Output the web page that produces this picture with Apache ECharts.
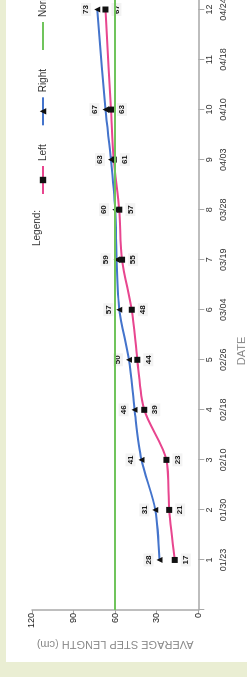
<!DOCTYPE html>
<html>
<head>
<meta charset="utf-8">
<script src="https://cdn.jsdelivr.net/npm/echarts@6/dist/echarts.min.js"></script>
<style>
  html, body { margin: 0; padding: 0; }
  body { width: 247px; height: 677px; overflow: hidden; background: #eaeed3; position: relative; }
  /* chart is drawn landscape, then turned a quarter turn counter-clockwise */
  #wrap {
    position: absolute; left: 0; top: 0; width: 677px; height: 247px;
    transform-origin: 0 0; transform: translateY(677px) rotate(-90deg);
  }
  #panel { position: absolute; left: 15px; top: 6px; right: 0; bottom: 0; background: #fff; }
  #container { position: absolute; left: 0; top: 0; width: 677px; height: 247px; }
</style>
</head>
<body>
<div id="wrap">
  <div id="panel"></div>
  <div id="container"></div>
</div>
<script>
  const sessions = [1, 2, 3, 4, 5, 6, 7, 8, 9, 10, 11, 12];
  const dates = ["01/23", "01/30", "02/10", "02/18", "02/26", "03/04", "03/19", "03/28", "04/03", "04/10", "04/18", "04/24"];
  const leftStep = [17, 21, 23, 39, 44, 48, 55, 57, 61, 63, null, 67];
  const rightStep = [28, 31, 41, 46, 50, 57, 59, 60, 63, 67, null, 73];
  const normValue = 60;
  const valueTicks = [0, 30, 60, 90, 120];

  const toPoints = (vals) => sessions.map((s, i) => [s, vals[i]]);

  const dom = document.getElementById("container");
  const myChart = echarts.init(dom, null, { renderer: "canvas" });

  const font = "Liberation Sans, Arial, sans-serif";

  const pointLabel = (pos) => ({
    show: true,
    position: pos,
    distance: 3,
    fontSize: 8,
    fontWeight: "bold",
    color: "#111",
    fontFamily: font,
    backgroundColor: "#f3f3f3",
    padding: [1, 2],
  });

  const option = {
    animation: false,
    textStyle: { fontFamily: font },
    legend: {
      left: 477,
      top: 33,
      width: 400,
      itemWidth: 28,
      itemHeight: 8,
      itemGap: 18,
      textStyle: { fontSize: 10, color: "#333" },
      data: [
        "Left",
        "Right",
        { name: "Norm", itemStyle: { opacity: 0 } },
      ],
    },
    graphic: [
      {
        type: "text",
        left: 431,
        top: 32,
        style: { text: "Legend:", fill: "#333", font: "10px " + font },
      },
    ],
    grid: { left: 67, top: 32, bottom: 48.7, right: 0, outerBoundsMode: "none" },
    xAxis: {
      type: "value",
      min: 0,
      max: 12.19,
      interval: 1,
      name: "DATE",
      nameLocation: "middle",
      nameGap: 38,
      nameTextStyle: { fontSize: 11, color: "#8a8a8a", padding: [0, 92, 0, 0] },
      axisLine: { lineStyle: { color: "#a8a8a8", width: 1.5 } },
      axisTick: { length: 6, lineStyle: { color: "#a8a8a8" } },
      splitLine: { show: false },
      axisLabel: {
        margin: 4,
        fontSize: 9,
        lineHeight: 14,
        color: "#333",
        showMaxLabel: false,
        formatter: (v) => (Number.isInteger(v) && v >= 1 && v <= 12 ? v + "\n" + dates[v - 1] : ""),
      },
    },
    yAxis: {
      type: "value",
      min: valueTicks[0],
      max: valueTicks[valueTicks.length - 1],
      interval: valueTicks[1] - valueTicks[0],
      name: "AVERAGE STEP LENGTH (cm)",
      nameLocation: "middle",
      nameGap: 27,
      nameTextStyle: { fontSize: 11, color: "#8a8a8a" },
      axisLine: { show: true, lineStyle: { color: "#a8a8a8", width: 1.5 } },
      axisTick: { show: true, length: 4, lineStyle: { color: "#a8a8a8" } },
      splitLine: { show: false },
      axisLabel: { margin: 3, fontSize: 9, color: "#222" },
    },
    series: [
      {
        name: "Left",
        type: "line",
        data: toPoints(leftStep),
        connectNulls: true,
        smooth: 0.3,
        symbol: "rect",
        symbolSize: 6,
        itemStyle: { color: "#111" },
        lineStyle: { color: "#e8468f", width: 2 },
        label: pointLabel("bottom"),
        z: 3,
      },
      {
        name: "Right",
        type: "line",
        data: toPoints(rightStep),
        connectNulls: true,
        smooth: 0.3,
        symbol: "triangle",
        symbolSize: 6,
        itemStyle: { color: "#111" },
        lineStyle: { color: "#4474cc", width: 2 },
        label: pointLabel("top"),
        z: 4,
      },
      {
        name: "Norm",
        type: "line",
        data: [],
        symbol: "none",
        itemStyle: { color: "#70c45c" },
        lineStyle: { color: "#70c45c", width: 2 },
        markLine: {
          silent: true,
          symbol: ["none", "none"],
          label: { show: false },
          lineStyle: { color: "#70c45c", width: 2, type: "solid" },
          data: [{ yAxis: normValue }],
        },
        z: 2,
      },
    ],
  };

  myChart.setOption(option);
</script>
</body>
</html>
